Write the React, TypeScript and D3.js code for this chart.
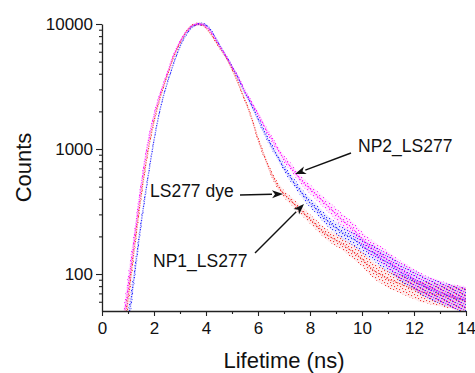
import { useEffect, useRef } from "react";
import * as d3 from "d3";

// time axis (ns), sampled every 0.25 ns
const times = [
  0.75, 1, 1.25, 1.5, 1.75, 2, 2.25, 2.5, 2.75, 3, 3.25, 3.5, 3.75, 4, 4.25, 4.5, 4.75, 5,
  5.25, 5.5, 5.75, 6, 6.25, 6.5, 6.75, 7, 7.25, 7.5, 7.75, 8, 8.25, 8.5, 8.75, 9, 9.25, 9.5,
  9.75, 10, 10.25, 10.5, 10.75, 11, 11.25, 11.5, 11.75, 12, 12.25, 12.5, 12.75, 13, 13.25,
  13.5, 13.75, 14,
];

// counts
const dyeCounts = [
  25, 63, 166, 417, 912, 1660, 2630, 3802, 5370, 7079, 8710, 9772, 10000, 9333, 7943, 6607,
  5495, 4365, 3311, 2455, 1778, 1202, 871, 646, 513, 437, 389, 347, 309, 275, 245, 219, 200,
  186, 174, 158, 145, 132, 117, 105, 98, 91, 87, 83, 79, 76, 72, 71, 69, 68, 66, 65, 63, 62,
];
const np1Counts = [
  16, 40, 100, 251, 562, 1175, 2138, 3311, 4786, 6607, 8318, 9550, 10000, 9772, 8511, 6918,
  5623, 4571, 3631, 2818, 2239, 1738, 1349, 1072, 871, 708, 589, 501, 427, 372, 331, 288, 257,
  234, 214, 200, 186, 170, 155, 145, 132, 123, 112, 102, 95, 89, 83, 78, 74, 71, 68, 66, 63, 62,
];
const np2Counts = [
  32, 79, 200, 501, 1072, 1862, 2818, 3981, 5623, 7244, 8710, 9772, 10000, 9550, 8318, 6761,
  5623, 4571, 3715, 2884, 2344, 1905, 1514, 1230, 1000, 832, 724, 617, 537, 479, 427, 380, 339,
  302, 269, 245, 219, 191, 170, 155, 141, 129, 117, 107, 100, 91, 85, 79, 76, 72, 69, 66, 65, 63,
];
// half width of the scatter band, in decades
const scatter = [
  0.1, 0.1, 0.07, 0.05, 0.035, 0.025, 0.02, 0.016, 0.014, 0.012, 0.012, 0.012, 0.012, 0.012,
  0.012, 0.013, 0.014, 0.015, 0.016, 0.018, 0.02, 0.022, 0.024, 0.026, 0.028, 0.03, 0.032,
  0.034, 0.036, 0.038, 0.04, 0.042, 0.045, 0.048, 0.05, 0.053, 0.056, 0.06, 0.062, 0.065,
  0.068, 0.07, 0.072, 0.075, 0.078, 0.08, 0.082, 0.085, 0.088, 0.09, 0.092, 0.095, 0.098, 0.1,
];

const xTicks = [0, 2, 4, 6, 8, 10, 12, 14];
const xMinor = [1, 3, 5, 7, 9, 11, 13];
const yTicks = [100, 1000, 10000];

const series = [
  { name: "LS277 dye", values: dyeCounts, color: "#f23a3a" },
  { name: "NP1_LS277", values: np1Counts, color: "#3030ff" },
  { name: "NP2_LS277", values: np2Counts, color: "#ff1aff" },
];

// label text, text position, arrow tail, arrow tip
const notes = [
  { text: "NP2_LS277", tx: 358, ty: 152, from: [351, 153], to: [295, 174] },
  { text: "LS277 dye", tx: 150, ty: 197, from: [240, 195], to: [283, 194] },
  { text: "NP1_LS277", tx: 153, ty: 267, from: [255, 253], to: [304, 204] },
];

// stipple layout inside one 6x6 pattern tile
const stipple = [
  [0, 0],
  [3, 1],
  [1, 3],
  [4, 4],
];

const W = 475;
const H = 373;
const FONT = "'Liberation Sans', Arial, sans-serif";

export default function App() {
  const ref = useRef<SVGSVGElement>(null);

  useEffect(() => {
    const svg = d3.select(ref.current);
    svg.selectAll("*").remove();

    const left = 102, right = 466, top = 24, bottom = 311;
    const x = d3.scaleLinear().domain([0, 14]).range([left, right]);
    const y = d3.scaleLog().domain([50.6, 10000]).range([bottom, top]);

    svg.append("rect").attr("width", W).attr("height", H).attr("fill", "#fff");

    const defs = svg.append("defs");
    defs
      .append("clipPath")
      .attr("id", "plot-clip")
      .append("rect")
      .attr("x", left)
      .attr("y", top - 6)
      .attr("width", right - left + 1)
      .attr("height", bottom - top + 6);

    series.forEach((s, i) => {
      const p = defs
        .append("pattern")
        .attr("id", `dots-${i}`)
        .attr("patternUnits", "userSpaceOnUse")
        .attr("width", 6)
        .attr("height", 6)
        .attr("x", i * 2)
        .attr("y", i);
      stipple.forEach(([sx, sy]) =>
        p
          .append("rect")
          .attr("x", sx)
          .attr("y", sy)
          .attr("width", 1.1)
          .attr("height", 1.1)
          .attr("fill", s.color)
      );
    });

    const plot = svg.append("g").attr("clip-path", "url(#plot-clip)");

    series.forEach((s, i) => {
      const pts = times.map((t, k) => ({ t, c: s.values[k], w: scatter[k] }));
      const band = d3
        .area<any>()
        .x((d) => x(d.t))
        .y0((d) => y(d.c / Math.pow(10, d.w)))
        .y1((d) => y(d.c * Math.pow(10, d.w)))
        .curve(d3.curveMonotoneX);
      plot.append("path").attr("d", band(pts)).attr("fill", s.color).attr("opacity", 0.09);
      plot.append("path").attr("d", band(pts)).attr("fill", `url(#dots-${i})`);
      const line = d3
        .line<any>()
        .x((d) => x(d.t))
        .y((d) => y(d.c))
        .curve(d3.curveMonotoneX);
      plot
        .append("path")
        .attr("d", line(pts))
        .attr("fill", "none")
        .attr("stroke", s.color)
        .attr("stroke-width", 1.2)
        .attr("stroke-dasharray", "1.2 1.2")
        .attr("opacity", 0.75);
    });

    // axes
    svg
      .append("g")
      .attr("transform", `translate(0,${bottom})`)
      .call(
        d3.axisBottom(x).tickValues(xTicks).tickSize(5).tickPadding(6).tickSizeOuter(0).tickFormat(d3.format("d"))
      );
    svg
      .append("g")
      .attr("transform", `translate(0,${bottom})`)
      .call(d3.axisBottom(x).tickValues(xMinor).tickSize(3).tickSizeOuter(0).tickFormat(() => ""))
      .select(".domain")
      .remove();

    svg
      .append("g")
      .attr("transform", `translate(${left},0)`)
      .call(
        d3.axisLeft(y).tickValues(yTicks).tickSize(6).tickPadding(3).tickSizeOuter(0).tickFormat(d3.format("d"))
      );
    const yMinor = y.ticks().filter((v) => !yTicks.includes(v));
    svg
      .append("g")
      .attr("transform", `translate(${left},0)`)
      .call(d3.axisLeft(y).tickValues(yMinor).tickSize(3).tickSizeOuter(0).tickFormat(() => ""))
      .select(".domain")
      .remove();

    svg.selectAll(".domain").attr("stroke", "#222").attr("stroke-width", 1.3);
    svg.selectAll(".tick line").attr("stroke", "#222").attr("stroke-width", 1.1);
    svg
      .selectAll(".tick text")
      .attr("font-family", FONT)
      .attr("font-size", 17)
      .attr("fill", "#111");

    // axis titles
    svg
      .append("text")
      .attr("x", (left + right) / 2)
      .attr("y", 368)
      .attr("text-anchor", "middle")
      .attr("font-family", FONT)
      .attr("font-size", 22)
      .attr("fill", "#111")
      .text("Lifetime (ns)");
    svg
      .append("text")
      .attr("transform", `translate(31,${(top + bottom) / 2}) rotate(-90)`)
      .attr("text-anchor", "middle")
      .attr("font-family", FONT)
      .attr("font-size", 22)
      .attr("fill", "#111")
      .text("Counts");

    // annotations
    notes.forEach((n) => {
      svg
        .append("text")
        .attr("x", n.tx)
        .attr("y", n.ty)
        .attr("font-family", FONT)
        .attr("font-size", 17.5)
        .attr("fill", "#111")
        .text(n.text);
      const [x1, y1] = n.from;
      const [x2, y2] = n.to;
      const a = Math.atan2(y2 - y1, x2 - x1);
      const len = 11, half = 4;
      const bx = x2 - len * Math.cos(a), by = y2 - len * Math.sin(a);
      svg
        .append("line")
        .attr("x1", x1)
        .attr("y1", y1)
        .attr("x2", bx)
        .attr("y2", by)
        .attr("stroke", "#111")
        .attr("stroke-width", 1.4);
      const head = [
        [x2, y2],
        [bx + half * Math.sin(a), by - half * Math.cos(a)],
        [bx + 3 * Math.cos(a), by + 3 * Math.sin(a)],
        [bx - half * Math.sin(a), by + half * Math.cos(a)],
      ];
      svg
        .append("path")
        .attr("d", d3.line()(head as [number, number][]) + "Z")
        .attr("fill", "#111");
    });
  }, []);

  return (
    <svg
      ref={ref}
      width={W}
      height={H}
      style={{ position: "absolute", left: 0, top: 0, display: "block" }}
    />
  );
}
